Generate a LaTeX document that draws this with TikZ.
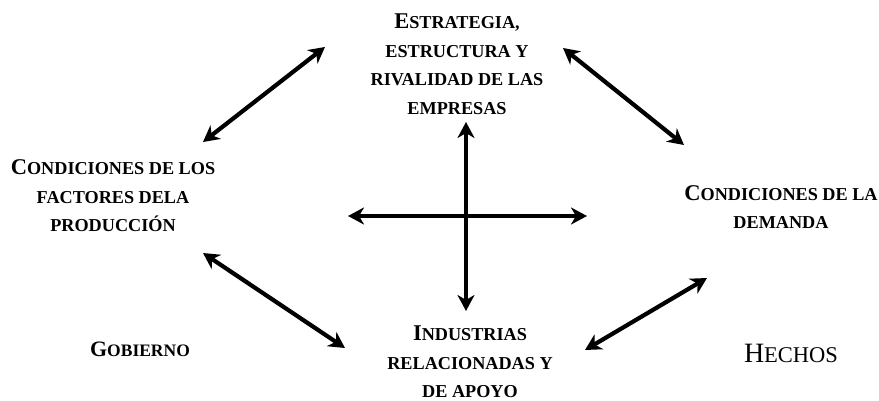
\documentclass[tikz,border=0pt]{standalone}
\usepackage{fontspec}
\setmainfont{Liberation Serif}
\usetikzlibrary{arrows.meta}
\newcommand\SCbig[1]{{\fontsize{22.5}{28}\selectfont #1}}
\begin{document}
\begin{tikzpicture}[x=1pt,y=-1pt,
  lbl/.style={align=center,inner sep=0pt,font=\bfseries\fontsize{18.2}{28.5}\selectfont},
  tip/.tip={Stealth[length=16pt,width=17pt,inset=5pt]},
  arr/.style={line width=4.2pt,tip-tip}]
\useasboundingbox (0,0) rectangle (879,401);
\node[lbl] (est) at (457,64) {\SCbig{E}STRATEGIA,\\ESTRUCTURA Y\\RIVALIDAD DE LAS\\EMPRESAS};
\node[lbl] (fac) at (113,196) {\SCbig{C}ONDICIONES DE LOS\\FACTORES DELA\\PRODUCCIÓN};
\node[lbl] (dem) at (781,207) {\SCbig{C}ONDICIONES DE LA\\DEMANDA};
\node[lbl] (ind) at (470,362) {\SCbig{I}NDUSTRIAS\\RELACIONADAS Y\\DE APOYO};
\node[inner sep=0pt,font=\bfseries\fontsize{17.5}{20}\selectfont] (gob) at (140,349) {{\fontsize{22}{20}\selectfont G}OBIERNO};
\node[inner sep=0pt,font=\fontsize{22.5}{24}\selectfont] (hec) at (791,353) {{\fontsize{28}{24}\selectfont H}ECHOS};
\coordinate (a1) at (203,142); \coordinate (a2) at (325,47);
\coordinate (b1) at (563,48);  \coordinate (b2) at (684,145);
\coordinate (c1) at (203,253); \coordinate (c2) at (345,348);
\coordinate (d1) at (585,350); \coordinate (d2) at (707,278);
\coordinate (h1) at (348,216); \coordinate (h2) at (587,216);
\coordinate (v1) at (466,122); \coordinate (v2) at (466,311);
\draw[arr] (a1) -- (a2);
\draw[arr] (b1) -- (b2);
\draw[arr] (c1) -- (c2);
\draw[arr] (d1) -- (d2);
\draw[arr] (h1) -- (h2);
\draw[arr] (v1) -- (v2);
\end{tikzpicture}
\end{document}
